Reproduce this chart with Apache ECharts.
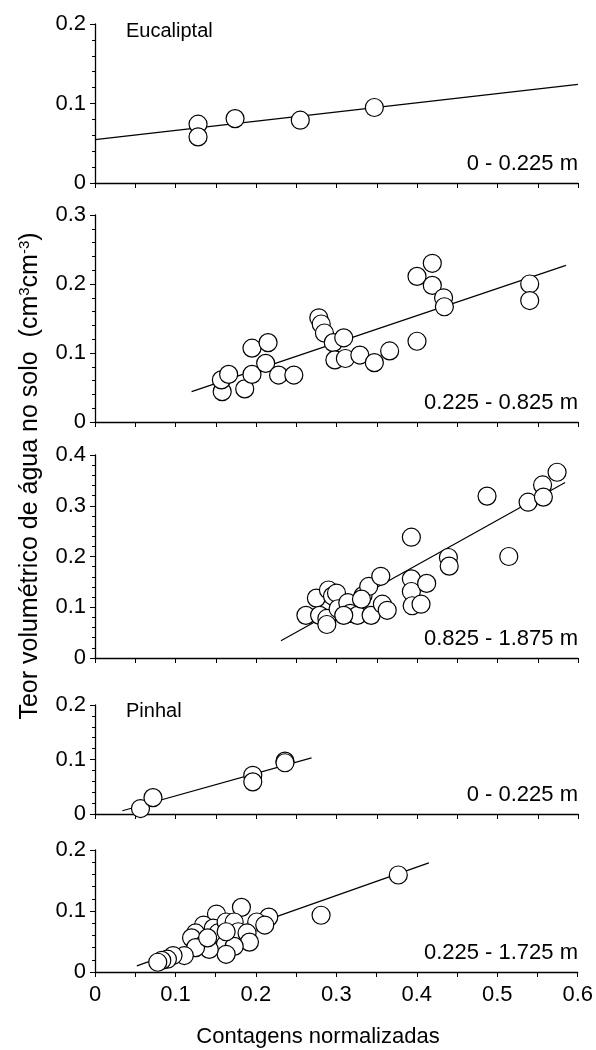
<!DOCTYPE html>
<html><head><meta charset="utf-8">
<script src="https://cdn.jsdelivr.net/npm/echarts@6/dist/echarts.min.js"></script>
<style>html,body{margin:0;padding:0;background:#fff}#c{width:596px;height:1050px}</style>
</head><body><div id="c"></div>
<script>
// ---- Data ----
const xTickLabels = ['0', '0.1', '0.2', '0.3', '0.4', '0.5', '0.6'];
const depthLabels = ['0 - 0.225 m', '0.225 - 0.825 m', '0.825 - 1.875 m', '0 - 0.225 m', '0.225 - 1.725 m'];
const yMaxes = [0.2, 0.3, 0.4, 0.2, 0.2];

const eucP1 = [[0.128,0.074],[0.128,0.058],[0.174,0.081],[0.255,0.079],[0.347,0.095]];
const eucP1Fit = [[0,0.0546],[0.6,0.124]];

const eucP2 = [[0.158,0.044],[0.157,0.061],[0.166,0.069],[0.186,0.048],[0.195,0.069],[0.195,0.107],
  [0.215,0.115],[0.212,0.085],[0.228,0.068],[0.247,0.068],[0.278,0.151],[0.281,0.142],[0.285,0.129],
  [0.296,0.115],[0.298,0.090],[0.309,0.122],[0.311,0.092],[0.329,0.097],[0.347,0.086],[0.366,0.103],
  [0.400,0.211],[0.400,0.117],[0.419,0.230],[0.419,0.198],[0.433,0.180],[0.434,0.167],[0.540,0.200],[0.540,0.176]];
const eucP2Fit = [[0.12,0.044],[0.585,0.227]];

const eucP3 = [[0.262,0.084],[0.275,0.118],[0.279,0.084],[0.288,0.078],[0.290,0.134],[0.295,0.122],
  [0.300,0.128],[0.302,0.097],[0.314,0.109],[0.317,0.088],[0.326,0.084],[0.333,0.123],[0.340,0.141],
  [0.343,0.084],[0.357,0.106],[0.363,0.094],[0.355,0.161],[0.393,0.238],[0.393,0.156],[0.393,0.131],
  [0.394,0.103],[0.405,0.106],[0.412,0.147],[0.439,0.198],[0.440,0.181],[0.487,0.319],[0.514,0.200],
  [0.538,0.307],[0.556,0.341],[0.557,0.317],[0.574,0.366],[0.288,0.066],[0.309,0.084],[0.331,0.116]];
const eucP3Fit = [[0.231,0.034],[0.584,0.346]];

const pinP1 = [[0.0565,0.010],[0.072,0.030],[0.196,0.071],[0.196,0.059],[0.236,0.097],[0.236,0.094]];
const pinP1Fit = [[0.034,0.006],[0.269,0.103]];

const pinP2 = [[0.377,0.159],[0.281,0.093],[0.182,0.106],[0.151,0.095],[0.216,0.090],[0.201,0.082],
  [0.211,0.077],[0.135,0.077],[0.125,0.064],[0.120,0.056],[0.147,0.072],[0.153,0.064],[0.163,0.082],
  [0.173,0.082],[0.178,0.066],[0.189,0.064],[0.192,0.049],[0.162,0.045],[0.173,0.042],[0.163,0.029],
  [0.135,0.045],[0.142,0.037],[0.125,0.040],[0.111,0.027],[0.097,0.027],[0.090,0.021],[0.083,0.019],
  [0.078,0.016],[0.140,0.056],[0.163,0.066]];
const pinP2Fit = [[0.052,0.010],[0.415,0.179]];

const panelPoints = [eucP1, eucP2, eucP3, pinP1, pinP2];
const panelFits = [eucP1Fit, eucP2Fit, eucP3Fit, pinP1Fit, pinP2Fit];

// ---- Layout ----
const FONT = '"Liberation Sans", Arial, sans-serif';
const panels = [
  {top: 24, bottom: 183},
  {top: 215, bottom: 422},
  {top: 455, bottom: 658},
  {top: 705, bottom: 814},
  {top: 850, bottom: 972}
];
const LEFT = 95, RIGHT_X = 578;

const grids = [], xAxes = [], yAxes = [], series = [], graphics = [];
panels.forEach((p, i) => {
  grids.push({left: LEFT, width: RIGHT_X - LEFT, top: p.top, height: p.bottom - p.top});
  xAxes.push({
    type: 'value', gridIndex: i, min: 0, max: 0.6, interval: 0.1,
    axisLine: {lineStyle: {color: '#000', width: 1.3}},
    axisTick: {show: true, length: 5, lineStyle: {color: '#000', width: 1}},
    minorTick: {show: true, splitNumber: 2, length: 5, lineStyle: {color: '#000', width: 1}},
    splitLine: {show: false},
    axisLabel: {show: i === 4, color: '#000', fontFamily: FONT, fontSize: 22, margin: 12,
      formatter: v => xTickLabels[Math.round(v * 10)]}
  });
  yAxes.push({
    type: 'value', gridIndex: i, min: 0, max: yMaxes[i], interval: 0.1,
    axisLine: {show: true, lineStyle: {color: '#000', width: 1.3}},
    axisTick: {show: true, length: 5, lineStyle: {color: '#000', width: 1}},
    minorTick: {show: true, splitNumber: 5, length: 3, lineStyle: {color: '#000', width: 1}},
    splitLine: {show: false},
    axisLabel: {color: '#000', fontFamily: FONT, fontSize: 22, margin: 9,
      formatter: v => v === 0 ? '0' : v.toFixed(1)}
  });
  series.push({
    type: 'line', xAxisIndex: i, yAxisIndex: i, data: panelFits[i],
    showSymbol: false, symbol: 'none', silent: true, z: 1,
    lineStyle: {color: '#000', width: 1.2}
  });
  series.push({
    type: 'scatter', xAxisIndex: i, yAxisIndex: i, data: panelPoints[i],
    symbol: 'circle', symbolSize: 18, z: 2,
    itemStyle: {color: '#fff', borderColor: '#000', borderWidth: 1.2, opacity: 1}
  });
  graphics.push({
    type: 'text', right: 596 - RIGHT_X, top: p.bottom - 30,
    style: {text: depthLabels[i], font: '22px ' + FONT, fill: '#000'}
  });
});

graphics.push({type: 'text', left: 126, top: 21, style: {text: 'Eucaliptal', font: '20px ' + FONT, fill: '#000'}});
graphics.push({type: 'text', left: 126, top: 701, style: {text: 'Pinhal', font: '20px ' + FONT, fill: '#000'}});
graphics.push({type: 'text', x: 318, y: 1037, style: {
  text: 'Contagens normalizadas', font: '22px ' + FONT, fill: '#000', align: 'center', verticalAlign: 'middle'}});
graphics.push({
  type: 'text', x: 30, y: 476, rotation: Math.PI / 2,
  style: {
    text: '{n|Teor volumétrico de água no solo  (cm}{s|3}{n|cm}{s|-3}{n|)}',
    align: 'center', verticalAlign: 'middle', fill: '#000',
    rich: {
      n: {fontFamily: FONT, fontSize: 25, fill: '#000'},
      s: {fontFamily: FONT, fontSize: 15, fill: '#000', verticalAlign: 'top', padding: [0, 0, 10, 0]}
    }
  }
});

const chart = echarts.init(document.getElementById('c'), null, {renderer: 'canvas'});
chart.setOption({
  animation: false,
  backgroundColor: '#fff',
  grid: grids, xAxis: xAxes, yAxis: yAxes, series: series, graphic: graphics
});
</script></body></html>
